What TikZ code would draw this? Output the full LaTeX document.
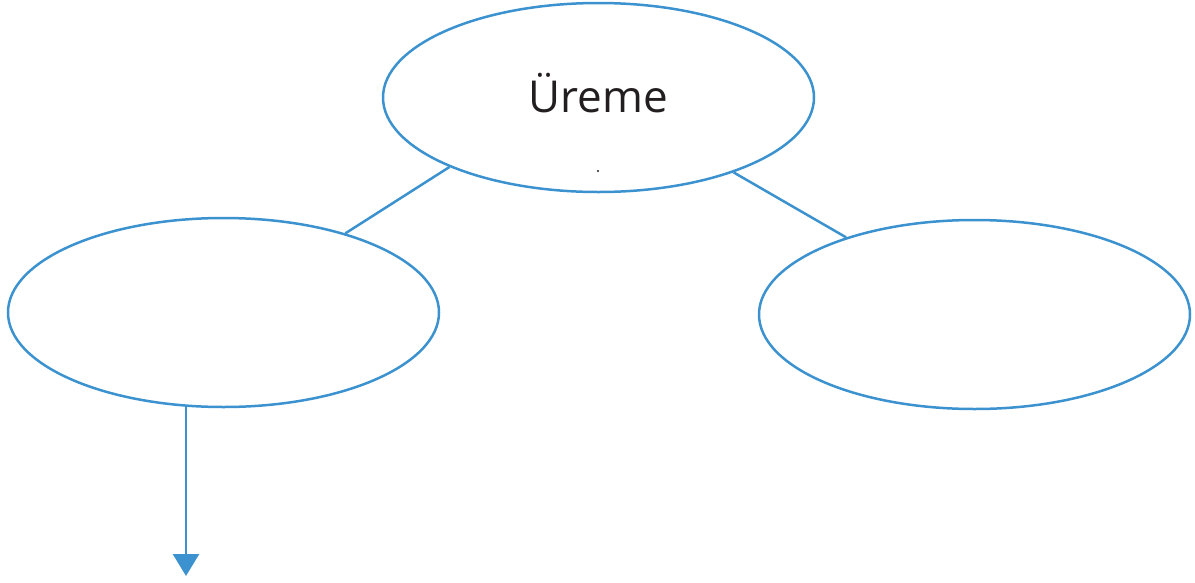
\documentclass[tikz,border=0pt]{standalone}
\usepackage{fontspec}
\setmainfont{Open Sans}
\usetikzlibrary{shapes.geometric,arrows.meta}
\definecolor{lineblue}{RGB}{59,146,207}
\definecolor{txt}{RGB}{35,31,32}
\begin{document}
\begin{tikzpicture}[x=1pt,y=-1pt,
  oval/.style={ellipse,draw=lineblue,line width=2.5pt,minimum width=431pt,minimum height=189pt,inner sep=0pt,text=txt},
  conn/.style={draw=lineblue,line width=2.5pt}]
\useasboundingbox (0,0) rectangle (1195,582);
\node[oval,font=\fontsize{44}{50}\selectfont] (top) at (598.5,97.5) {\raisebox{10pt}{Üreme}};
\node[oval] (left) at (223.5,312.5) {};
\node[oval] (right) at (974.5,314.5) {};
\fill[txt] (598,171) circle (1.1pt);
\path[conn] (top.205.85) -- (left.33.1);
\path[conn] (top.331.2) -- (right.149.8);
\coordinate (end) at (186,576);
\path[conn,-{Triangle[length=22pt,width=26pt]}] (left.south -| end) ++(0,-1.5) -- (end);
\end{tikzpicture}
\end{document}
